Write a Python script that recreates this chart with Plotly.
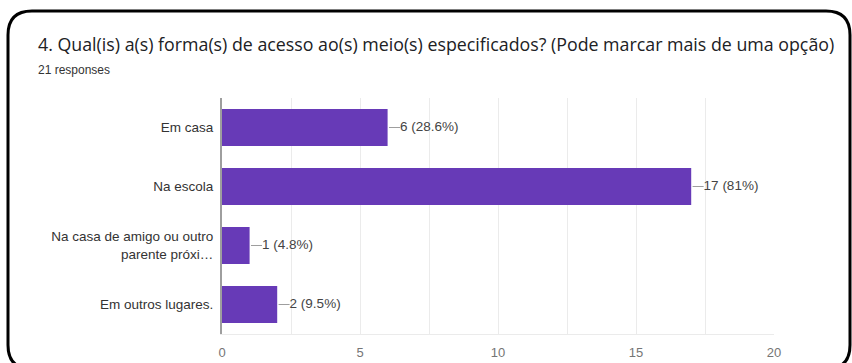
import plotly.graph_objects as go

categories = ["Em casa", "Na escola", "Na casa de amigo ou outro<br>parente próxi…", "Em outros lugares."]
counts = [6, 17, 1, 2]
percents = ["28.6%", "81%", "4.8%", "9.5%"]
x_ticks = [0, 5, 10, 15, 20]

title = "4. Qual(is) a(s) forma(s) de acesso ao(s) meio(s) especificados? (Pode marcar mais de uma opção)"
subtitle = "21 responses"

W, H = 852, 363
def px(x): return x / W
def py(y): return 1 - y / H

fig = go.Figure()
fig.add_trace(go.Bar(
    x=counts, y=categories, orientation="h",
    marker=dict(color="#673ab7", line=dict(width=0)),
    width=0.63, hoverinfo="skip",
))

# connector lines from bar end to label
lead = 0.45
lx, ly = [], []
for c, cat in zip(counts, categories):
    lx += [c + 0.05, c + lead, None]
    ly += [cat, cat, None]
fig.add_trace(go.Scatter(x=lx, y=ly, mode="lines",
                         line=dict(color="#9e9e9e", width=1), hoverinfo="skip"))
fig.add_trace(go.Scatter(
    x=[c + lead for c in counts], y=categories, mode="text",
    text=[f"{c} ({p})" for c, p in zip(counts, percents)],
    textposition="middle right",
    textfont=dict(family="Liberation Sans, Arial", size=13.5, color="#444444"),
    hoverinfo="skip",
))

x0, y0, x1, y1, r = 8, 11, 850, 369, 24
path = (f"M {px(x0+r)},{py(y0)} L {px(x1-r)},{py(y0)} Q {px(x1)},{py(y0)} {px(x1)},{py(y0+r)} "
        f"L {px(x1)},{py(y1-r)} Q {px(x1)},{py(y1)} {px(x1-r)},{py(y1)} "
        f"L {px(x0+r)},{py(y1)} Q {px(x0)},{py(y1)} {px(x0)},{py(y1-r)} "
        f"L {px(x0)},{py(y0+r)} Q {px(x0)},{py(y0)} {px(x0+r)},{py(y0)} Z")

fig.update_layout(
    width=W, height=H, autosize=False,
    margin=dict(l=0, r=0, t=0, b=0),
    paper_bgcolor="white", plot_bgcolor="white",
    showlegend=False,
    xaxis=dict(domain=[px(222), px(774)], range=[0, 20], tickvals=x_ticks,
               showgrid=True, gridcolor="#ebebeb", gridwidth=1,
               minor=dict(dtick=2.5, tick0=0, showgrid=True, gridcolor="#ebebeb"),
               zeroline=False, showline=True, linecolor="#ebebeb", linewidth=1,
               tickfont=dict(family="Liberation Sans, Arial", size=13, color="#757575"),
               ticks="", ticklabelstandoff=6, automargin=False, fixedrange=True),
    yaxis=dict(domain=[py(334), py(98)], autorange="reversed",
               showgrid=False, zeroline=False, showline=True,
               linecolor="#9e9e9e", linewidth=2,
               tickfont=dict(family="Liberation Sans, Arial", size=13.5, color="#333333"),
               ticks="", ticklabelstandoff=4, automargin=False, fixedrange=True),
    shapes=[dict(type="path", path=path, xref="paper", yref="paper",
                 line=dict(color="black", width=3), fillcolor="rgba(0,0,0,0)")],
    annotations=[
        dict(text=title, x=px(36), y=py(44), xref="paper", yref="paper",
             xanchor="left", yanchor="middle", showarrow=False,
             font=dict(family="Open Sans", size=17.8, color="#202124")),
        dict(text=subtitle, x=px(36), y=py(70), xref="paper", yref="paper",
             xanchor="left", yanchor="middle", showarrow=False,
             font=dict(family="Liberation Sans, Arial", size=12, color="#333333")),
    ],
)

fig.write_html("out.html")
